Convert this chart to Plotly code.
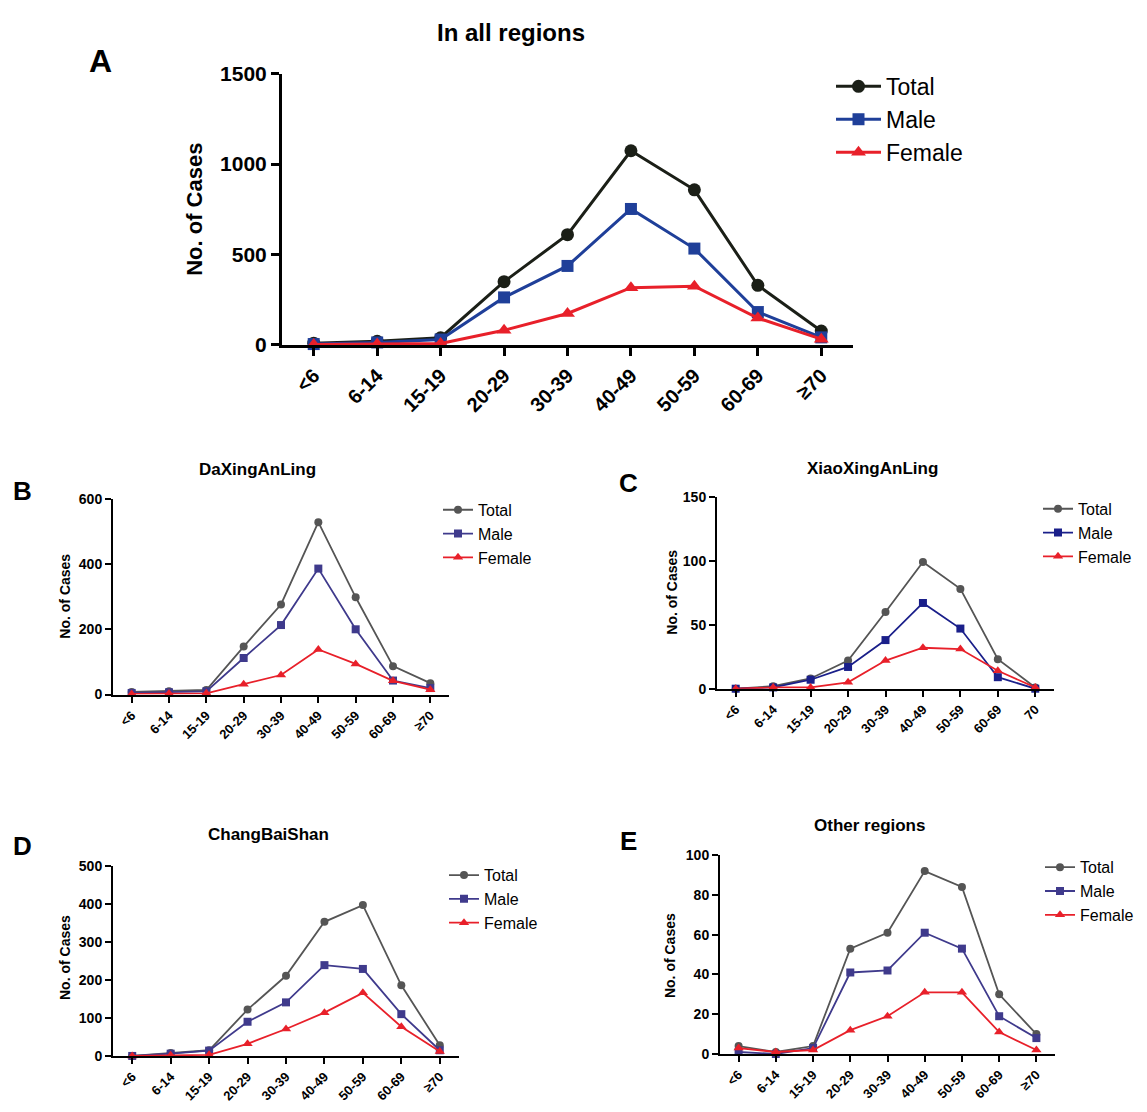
import plotly.graph_objects as go

W, H = 1147, 1112

cats = ["<6", "6-14", "15-19", "20-29", "30-39", "40-49", "50-59", "60-69", "≥70"]
cats_c = ["<6", "6-14", "15-19", "20-29", "30-39", "40-49", "50-59", "60-69", "70"]

# Panel A: all regions
a_total = [10, 20, 40, 350, 610, 1074, 858, 330, 77]
a_male = [5, 14, 30, 263, 437, 752, 533, 182, 42]
a_female = [3, 5, 8, 81, 174, 317, 325, 149, 32]

# Panel B: DaXingAnLing
b_total = [8, 10, 14, 147, 276, 528, 298, 87, 35]
b_male = [5, 7, 10, 112, 213, 386, 200, 43, 20]
b_female = [2, 3, 4, 32, 60, 138, 94, 42, 15]

# Panel C: XiaoXingAnLing
c_total = [0, 2, 8, 22, 60, 99, 78, 23, 1]
c_male = [0, 1, 7, 17, 38, 67, 47, 9, 0]
c_female = [0, 1, 1, 5, 22, 32, 31, 14, 1]

# Panel D: ChangBaiShan
d_total = [0, 8, 15, 122, 211, 353, 397, 186, 28]
d_male = [0, 6, 14, 90, 141, 239, 229, 110, 15]
d_female = [0, 2, 3, 32, 71, 114, 166, 77, 12]

# Panel E: Other regions
e_total = [4, 1, 4, 53, 61, 92, 84, 30, 10]
e_male = [1, 0, 3, 41, 42, 61, 53, 19, 8]
e_female = [3, 1, 2, 12, 19, 31, 31, 11, 2]

FONT = "Liberation Sans"

def px_x(x):
    return x / W

def px_y(y):
    return 1 - y / H

fig = go.Figure()

panels = [
    dict(k="", xd=(282, 853), yd=(340, 63), cats=cats, data=(a_total, a_male, a_female),
         ymax=1500, dtick=500, colors=("#1b1f17", "#1f3f99", "#e8202a"), big=True, legend="legend"),
    dict(k="2", xd=(113, 449), yd=(697, 497), cats=cats, data=(b_total, b_male, b_female),
         ymax=600, dtick=200, colors=("#555555", "#3f3a8c", "#e8202a"), big=False, legend="legend2"),
    dict(k="3", xd=(717, 1054), yd=(691, 495), cats=cats_c, data=(c_total, c_male, c_female),
         ymax=150, dtick=50, colors=("#555555", "#1a1f8a", "#e8202a"), big=False, legend="legend3"),
    dict(k="4", xd=(113, 459), yd=(1066, 872), cats=cats, data=(d_total, d_male, d_female),
         ymax=500, dtick=100, colors=("#555555", "#3f3a8c", "#e8202a"), big=False, legend="legend4"),
    dict(k="5", xd=(720, 1055), yd=(1064, 861), cats=cats, data=(e_total, e_male, e_female),
         ymax=100, dtick=20, colors=("#555555", "#3f3a8c", "#e8202a"), big=False, legend="legend5"),
]

names = ["Total", "Male", "Female"]
symbols = ["circle", "square", "triangle-up"]

layout = {}
for p in panels:
    big = p["big"]
    lw = 3 if big else 1.8
    ms = [13, 12, 13] if big else [8, 8, 9]
    for i in range(3):
        fig.add_trace(go.Scatter(
            x=p["cats"], y=p["data"][i], name=names[i],
            mode="lines+markers",
            line=dict(color=p["colors"][i], width=lw),
            marker=dict(symbol=symbols[i], size=ms[i], color=p["colors"][i]),
            xaxis="x" + p["k"], yaxis="y" + p["k"],
            legend=p["legend"], cliponaxis=False,
        ))
    axw = 3 if big else 2
    tl = 8 if big else 6
    layout["xaxis" + p["k"]] = dict(
        domain=[px_x(p["xd"][0]), px_x(p["xd"][1])],
        anchor="y" + p["k"], type="category", categoryorder="array", categoryarray=p["cats"],
        range=[-0.5, 8.5], showline=True, linecolor="black", linewidth=axw,
        ticks="outside", tickwidth=axw, ticklen=tl, tickcolor="black",
        tickangle=-45, showgrid=False, zeroline=False,
        tickfont=dict(family=FONT, size=20 if big else 13, color="black", weight="bold"),
    )
    layout["yaxis" + p["k"]] = dict(
        domain=[px_y(p["yd"][0]), px_y(p["yd"][1])],
        anchor="x" + p["k"], range=[0, p["ymax"]], dtick=p["dtick"],
        showline=True, linecolor="black", linewidth=axw,
        ticks="outside", tickwidth=axw, ticklen=tl, tickcolor="black",
        showgrid=False, zeroline=False,
        tickfont=dict(family=FONT, size=21 if big else 14, color="black", weight="bold"),
    )

legend_pos = {
    "legend": (831, 54, 23, 45),
    "legend2": (438, 491, 16, 30),
    "legend3": (1038, 490, 16, 30),
    "legend4": (444, 864, 16, 30),
    "legend5": (1040, 856, 16, 30),
}
for key, (lx, ly, fs, iw) in legend_pos.items():
    layout[key] = dict(x=px_x(lx), y=px_y(ly), xanchor="left", yanchor="top",
                       bgcolor="rgba(0,0,0,0)", borderwidth=0, itemwidth=iw,
                       font=dict(family=FONT, size=fs, color="black"))

annotations = []
def ann(text, x, y, size, angle=0, weight="bold"):
    annotations.append(dict(text=text, x=px_x(x), y=px_y(y), xref="paper", yref="paper",
                            showarrow=False, textangle=angle, xanchor="center", yanchor="middle",
                            font=dict(family=FONT, size=size, color="black", weight=weight)))

ann("In all regions", 511, 21, 24)
ann("A", 100, 50, 32)
ann("B", 22, 489, 26)
ann("C", 628, 481, 26)
ann("D", 22, 852, 26)
ann("E", 628, 847, 26)
ann("DaXingAnLing", 257, 467, 17)
ann("XiaoXingAnLing", 872, 466, 17)
ann("ChangBaiShan", 268, 840, 17)
ann("Other regions", 869, 831, 17)
ann("No. of Cases", 195, 202, 22, -90)
ann("No. of Cases", 65, 597, 14, -90)
ann("No. of Cases", 672, 593, 14, -90)
ann("No. of Cases", 65, 966, 14, -90)
ann("No. of Cases", 670, 964, 14, -90)

fig.update_layout(
    width=W, height=H, margin=dict(l=0, r=0, t=0, b=0),
    paper_bgcolor="white", plot_bgcolor="white",
    showlegend=True, annotations=annotations, **layout,
)

fig.write_html("out.html", config={"displayModeBar": False},
               post_script="document.body.style.margin='0';document.body.style.overflow='hidden';")
